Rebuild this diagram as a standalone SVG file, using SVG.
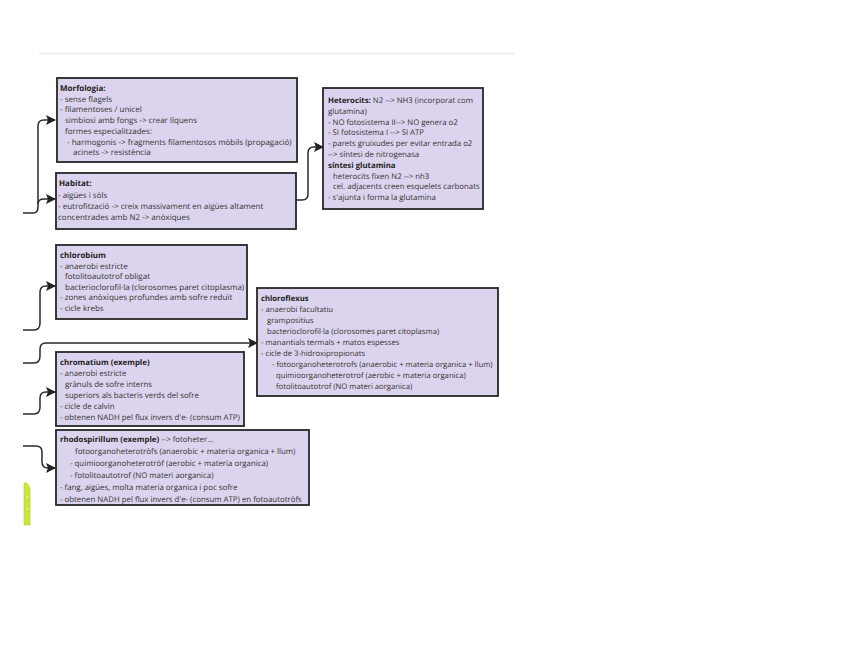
<svg xmlns="http://www.w3.org/2000/svg" width="848" height="655" viewBox="0 0 848 655">
<defs>
<marker id="ah" viewBox="0 0 10 10" refX="9" refY="5" markerWidth="10" markerHeight="10" markerUnits="userSpaceOnUse" orient="auto">
<path d="M0,0 L10,5 L0,10 L2,5 Z" fill="#222"/>
</marker>
</defs>
<style>
.box{fill:#dcd4ee;stroke:#262626;stroke-width:1.8}
.t{font-family:"Open Sans","Liberation Sans",sans-serif;font-size:8px;fill:#333;text-rendering:geometricPrecision}
.b{font-weight:bold;fill:#222}
.c{fill:none;stroke:#2a2a2a;stroke-width:1.5;marker-end:url(#ah)}
.cn{fill:none;stroke:#2a2a2a;stroke-width:1.5}
</style>
<rect width="848" height="655" fill="#ffffff"/>
<line x1="39" y1="53.5" x2="515" y2="53.5" stroke="#f1f1f1" stroke-width="2"/>

<g id="connectors">
<path class="cn" d="M23,213 L33,213 Q38,213 38,207 L38,126 Q38,120 44,120"/>
<path class="c" d="M44,120 L55,120"/>
<path class="c" d="M38,204 Q38,199 44,199 L55,199"/>
<path class="c" d="M23,330 L34,330 Q40,330 40,323 L40,292 Q40,286 46,286 L55,286"/>
<path class="c" d="M23,363 L34,363 Q40,363 40,356 L40,349 Q40,343 46,343 L257,343"/>
<path class="c" d="M23,414 L34,414 Q40,414 40,407 L40,398 Q40,392 46,392 L55,392"/>
<path class="c" d="M23,446 L36,446 Q42,446 42,452 L42,462 Q42,468 48,468 L55,468"/>
<path class="c" d="M296,200 L302,200 Q308,200 308,194 L308,153 Q308,147 314,147 L323,147"/>
</g>

<g id="morfologia">
<rect class="box" x="57" y="78" width="240" height="84"/>
<text class="t"><tspan class="b" x="60" y="91">Morfologia:</tspan><tspan x="60" y="101.7">- sense flagels</tspan><tspan x="60" y="112.4">- filamentoses / unicel</tspan><tspan x="65" y="123.1">simbiosi amb fongs -&gt; crear líquens</tspan><tspan x="65" y="133.8">formes especialitzades:</tspan><tspan x="67" y="144.5">- harmogonis -&gt; fragments filamentosos mòbils (propagació)</tspan><tspan x="73" y="155.2">acinets -&gt; resistència</tspan></text>
</g>

<g id="habitat">
<rect class="box" x="56" y="173" width="240" height="56"/>
<text class="t"><tspan class="b" x="59" y="186">Habitat:</tspan><tspan x="58" y="197.5">- aigües i sòls</tspan><tspan x="58" y="208.5">- eutrofització -&gt; creix massivament en aigües altament</tspan><tspan x="58" y="219.5">concentrades amb N2 -&gt; anòxiques</tspan></text>
</g>

<g id="heterocits">
<rect class="box" x="323" y="88" width="160" height="121"/>
<text class="t" style="font-size:7.8px"><tspan class="b" x="328" y="103">Heterocits: </tspan><tspan>N2 --&gt; NH3 (incorporat com</tspan><tspan x="328" y="113.8">glutamina)</tspan><tspan x="328" y="124.6">- NO fotosistema II--&gt; NO genera o2</tspan><tspan x="328" y="135.4">- SI fotosistema I --&gt; SI ATP</tspan><tspan x="328" y="146.2">- parets gruixudes per evitar entrada o2</tspan><tspan x="328" y="157">--&gt; síntesi de nitrogenasa</tspan><tspan class="b" x="328" y="167.8">síntesi glutamina</tspan><tspan x="333" y="178.6">heterocits fixen N2 --&gt; nh3</tspan><tspan x="333" y="189.4">cel. adjacents creen esquelets carbonats</tspan><tspan x="328" y="200.2">- s'ajunta i forma la glutamina</tspan></text>
</g>

<g id="chlorobium">
<rect class="box" x="56" y="245" width="191" height="74"/>
<text class="t"><tspan class="b" x="60" y="258">chlorobium</tspan><tspan x="60" y="268.5">- anaerobi estricte</tspan><tspan x="65" y="279">fotolitoautotrof obligat</tspan><tspan x="65" y="289.5">bacterioclorofil·la (clorosomes paret citoplasma)</tspan><tspan x="60" y="300">- zones anòxiques profundes amb sofre reduït</tspan><tspan x="60" y="310.5">- cicle krebs</tspan></text>
</g>

<g id="chloroflexus">
<rect class="box" x="257" y="288" width="241" height="108"/>
<text class="t" style="font-size:7.7px"><tspan class="b" x="261" y="301">chloroflexus</tspan><tspan x="261" y="312">- anaerobi facultatiu</tspan><tspan x="267" y="323">grampositius</tspan><tspan x="267" y="334">bacterioclorofil·la (clorosomes paret citoplasma)</tspan><tspan x="261" y="345">- manantials termals + matos espesses</tspan><tspan x="261" y="356">- cicle de 3-hidroxipropionats</tspan><tspan x="272" y="367">- fotoorganoheterotrofs (anaerobic + materia organica + llum)</tspan><tspan x="276" y="378">quimioorganoheterotrof (aerobic + materia organica)</tspan><tspan x="276" y="389">fotolitoautotrof (NO materi aorganica)</tspan></text>
</g>

<g id="chromatium">
<rect class="box" x="56" y="352" width="188" height="74"/>
<text class="t" style="font-size:7.85px"><tspan class="b" x="60" y="365">chromatium (exemple)</tspan><tspan x="60" y="376">- anaerobi estricte</tspan><tspan x="65" y="387">grànuls de sofre interns</tspan><tspan x="65" y="398">superiors als bacteris verds del sofre</tspan><tspan x="60" y="409">- cicle de calvin</tspan><tspan x="60" y="420">- obtenen NADH pel flux invers d'e- (consum ATP)</tspan></text>
</g>

<g id="rhodospirillum">
<rect class="box" x="56" y="430" width="253" height="75"/>
<text class="t" style="font-size:7.85px"><tspan class="b" x="60" y="442">rhodospirillum (exemple) </tspan><tspan>--&gt; fotoheter...</tspan><tspan x="75" y="454">fotoorganoheterotròfs (anaerobic + materia organica + llum)</tspan><tspan x="70" y="466">- quimioorganoheterotròf (aerobic + materia organica)</tspan><tspan x="70" y="478">- fotolitoautotrof (NO materi aorganica)</tspan><tspan x="60" y="490">- fang, aigües, molta materia organica i poc sofre</tspan><tspan x="60" y="502">- obtenen NADH pel flux invers d'e- (consum ATP) en fotoautotròfs</tspan></text>
</g>

<g id="green-bar">
<path d="M24,483 L27,483 L30,488 L30,525 L24,525 Z" fill="#c8e63c" stroke="#b4d42c" stroke-width="0.6"/>
<line x1="26.5" y1="497" x2="28" y2="497" stroke="#ffffff" stroke-width="1"/>
<line x1="26.5" y1="509" x2="28" y2="509" stroke="#ffffff" stroke-width="1"/>
</g>
</svg>
